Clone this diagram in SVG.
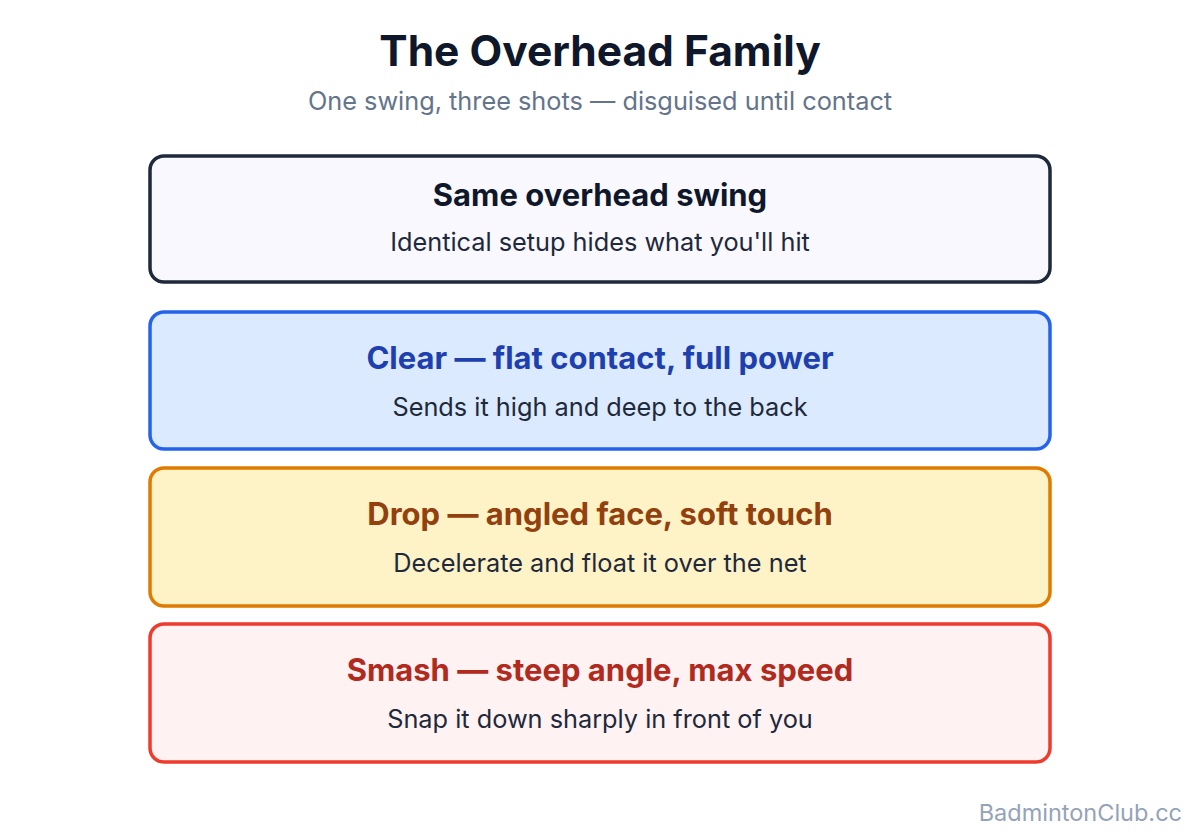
<svg xmlns="http://www.w3.org/2000/svg" width="1200" height="840" viewBox="0 0 1200 840">
<style>
text{font-family:Inter,"Noto Sans","Liberation Sans",sans-serif;text-anchor:middle}
.title{font-size:42.5px;font-weight:700;fill:#0f172a}
.subtitle{font-size:25.3px;fill:#64748b}
.h{font-size:31px;font-weight:700}
.s{font-size:25.3px;fill:#1e293b}
.box{stroke-width:3.5}
.wm{font-size:23.5px;fill:#94a3b8;text-anchor:end}
</style>
<rect width="1200" height="840" fill="#ffffff"/>
<text class="title" x="600" y="66">The Overhead Family</text>
<text class="subtitle" x="600" y="110">One swing, three shots — disguised until contact</text>
<g id="connectors"></g>
<g id="node-swing">
<rect class="box" x="150" y="156" width="900" height="126" rx="14" fill="#f8f8fe" stroke="#1e293b"/>
<text class="h" x="600" y="206" fill="#0f172a">Same overhead swing</text>
<text class="s" x="600" y="251">Identical setup hides what you'll hit</text>
</g>
<g id="node-clear">
<rect class="box" x="150" y="312" width="900" height="137" rx="14" fill="#dbeafe" stroke="#2563eb"/>
<text class="h" x="600" y="369" fill="#1e40af">Clear — flat contact, full power</text>
<text class="s" x="600" y="416">Sends it high and deep to the back</text>
</g>
<g id="node-drop">
<rect class="box" x="150" y="468" width="900" height="138" rx="14" fill="#fef3c7" stroke="#e07b00"/>
<text class="h" x="600" y="525" fill="#92400e">Drop — angled face, soft touch</text>
<text class="s" x="600" y="572">Decelerate and float it over the net</text>
</g>
<g id="node-smash">
<rect class="box" x="150" y="624" width="900" height="138" rx="14" fill="#fef2f2" stroke="#ef3b2c"/>
<text class="h" x="600" y="681" fill="#b02a1e">Smash — steep angle, max speed</text>
<text class="s" x="600" y="728">Snap it down sharply in front of you</text>
</g>
<text class="wm" x="1182" y="821">BadmintonClub.cc</text>
</svg>
